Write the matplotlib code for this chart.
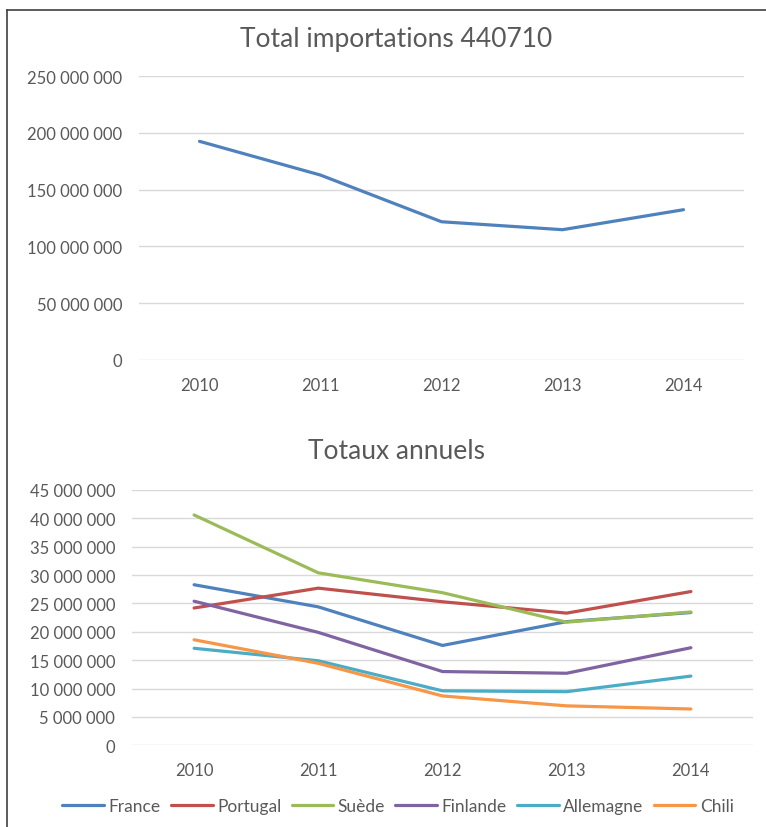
import matplotlib
matplotlib.use("Agg")
import matplotlib.pyplot as plt
from matplotlib.ticker import FuncFormatter, MultipleLocator
from matplotlib.lines import Line2D

plt.rcParams['font.family'] = ['Lato', 'DejaVu Sans']

years = ["2010", "2011", "2012", "2013", "2014"]
total = [192.5e6, 162.8e6, 121.7e6, 114.7e6, 132.3e6]

countries = ["France", "Portugal", "Suède", "Finlande", "Allemagne", "Chili"]
france = [28.3e6, 24.4e6, 17.6e6, 21.8e6, 23.4e6]
portugal = [24.2e6, 27.7e6, 25.3e6, 23.3e6, 27.1e6]
suede = [40.6e6, 30.4e6, 26.9e6, 21.7e6, 23.5e6]
finlande = [25.4e6, 19.9e6, 13.0e6, 12.7e6, 17.2e6]
allemagne = [17.1e6, 14.9e6, 9.6e6, 9.45e6, 12.2e6]
chili = [18.6e6, 14.45e6, 8.7e6, 6.95e6, 6.4e6]
series = [france, portugal, suede, finlande, allemagne, chili]
colors = ["#4F81BD", "#C0504D", "#9BBB59", "#8064A2", "#4BACC6", "#F79646"]

TXT = "#595959"
GRID = "#D9D9D9"

def fmt(v, pos):
    return f"{int(round(v)):,}".replace(",", " ")

fig = plt.figure(figsize=(7.66, 8.28), dpi=100)

def style(ax, step, top):
    ax.set_xlim(-0.5, 4.5)
    ax.set_ylim(0, top)
    ax.yaxis.set_major_locator(MultipleLocator(step))
    ax.yaxis.set_major_formatter(FuncFormatter(fmt))
    ax.set_xticks(range(len(years)))
    ax.set_xticklabels(years)
    ax.grid(axis='y', color=GRID, linewidth=1.0)
    ax.set_axisbelow(True)
    for s in ax.spines.values():
        s.set_visible(False)
    ax.tick_params(length=0, colors=TXT, labelsize=12)
    ax.tick_params(axis='y', pad=12)
    ax.tick_params(axis='x', pad=12)

ax1 = fig.add_axes([139/766, 1-361/828, (744-139)/766, (361-77)/828])
x = list(range(len(years)))
ax1.plot(x, total, color="#4F81BD", linewidth=2.3, solid_capstyle='round')
style(ax1, 50e6, 250e6)
fig.text(396/766, 1-39/828, "Total importations 440710", ha='center', va='center',
         fontsize=19, color=TXT)

ax2 = fig.add_axes([132/766, 1-746.3/828, (753-132)/766, (746.3-491)/828])
handles = []
for name, vals, c in zip(countries, series, colors):
    h, = ax2.plot(x, vals, color=c, linewidth=2.3, solid_capstyle='round', label=name)
    handles.append(h)
style(ax2, 5e6, 45e6)
fig.text(397/766, 1-452/828, "Totaux annuels", ha='center', va='center',
         fontsize=19, color=TXT)

leg = fig.legend(handles=handles, labels=countries, loc='center', ncol=6,
                 bbox_to_anchor=(398/766, 1-807/828), frameon=False,
                 handlelength=2.4, handletextpad=0.25, columnspacing=0.6,
                 fontsize=12.5)
for t in leg.get_texts():
    t.set_color(TXT)

# frame
fig.add_artist(Line2D([7/766, 7/766], [0, 1-11/828], color="#404040", linewidth=1.2,
                      transform=fig.transFigure))
fig.add_artist(Line2D([7/766, 1], [1-11/828, 1-11/828], color="#404040", linewidth=1.2,
                      transform=fig.transFigure))

fig.savefig("out.png", dpi=100)
